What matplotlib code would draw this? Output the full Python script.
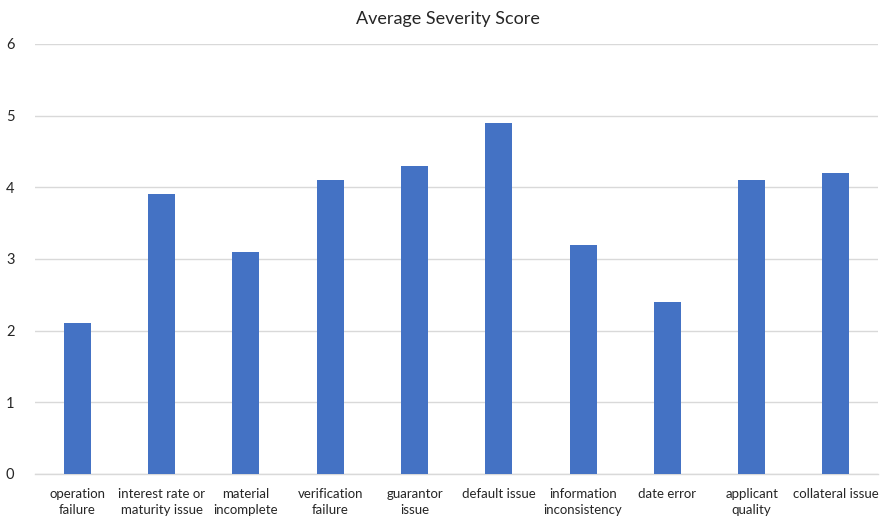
import matplotlib
matplotlib.use('Agg')
import matplotlib.pyplot as plt

# categories and average scores
categories = ['operation\nfailure', 'interest rate or\nmaturity issue', 'material\nincomplete',
              'verification\nfailure', 'guarantor\nissue', 'default issue',
              'information\ninconsistency', 'date error', 'applicant\nquality', 'collateral issue']
scores = [2.1, 3.9, 3.1, 4.1, 4.3, 4.9, 3.2, 2.4, 4.1, 4.2]
yticks = [0, 1, 2, 3, 4, 5, 6]

plt.rcParams['font.family'] = ['Lato', 'DejaVu Sans']

fig = plt.figure(figsize=(8.8, 5.23), dpi=100)
ax = fig.add_axes([0.0401, 0.0937, 0.9577, 0.8222])

x = list(range(len(categories)))
ax.bar(x, scores, width=0.32, color='#4472C4', zorder=3)

ax.set_xlim(-0.5, len(categories) - 0.5)
ax.set_ylim(0, 6)
ax.set_yticks(yticks)
ax.set_xticks(x)
ax.set_xticklabels(categories, fontsize=9.5, color='#262626', linespacing=1.4)
ax.tick_params(axis='y', labelsize=10.5, labelcolor='#262626', length=0, pad=15)
ax.tick_params(axis='x', length=0, pad=10)

ax.grid(axis='y', color='#D9D9D9', linewidth=1, zorder=0)
for side in ['top', 'right', 'left']:
    ax.spines[side].set_visible(False)
ax.spines['bottom'].set_color('#D9D9D9')
ax.spines['bottom'].set_linewidth(1)

fig.text(0.509, 0.963, 'Average Severity Score', ha='center', va='center',
         fontsize=13, color='#262626')

fig.savefig('out.png', dpi=100)
